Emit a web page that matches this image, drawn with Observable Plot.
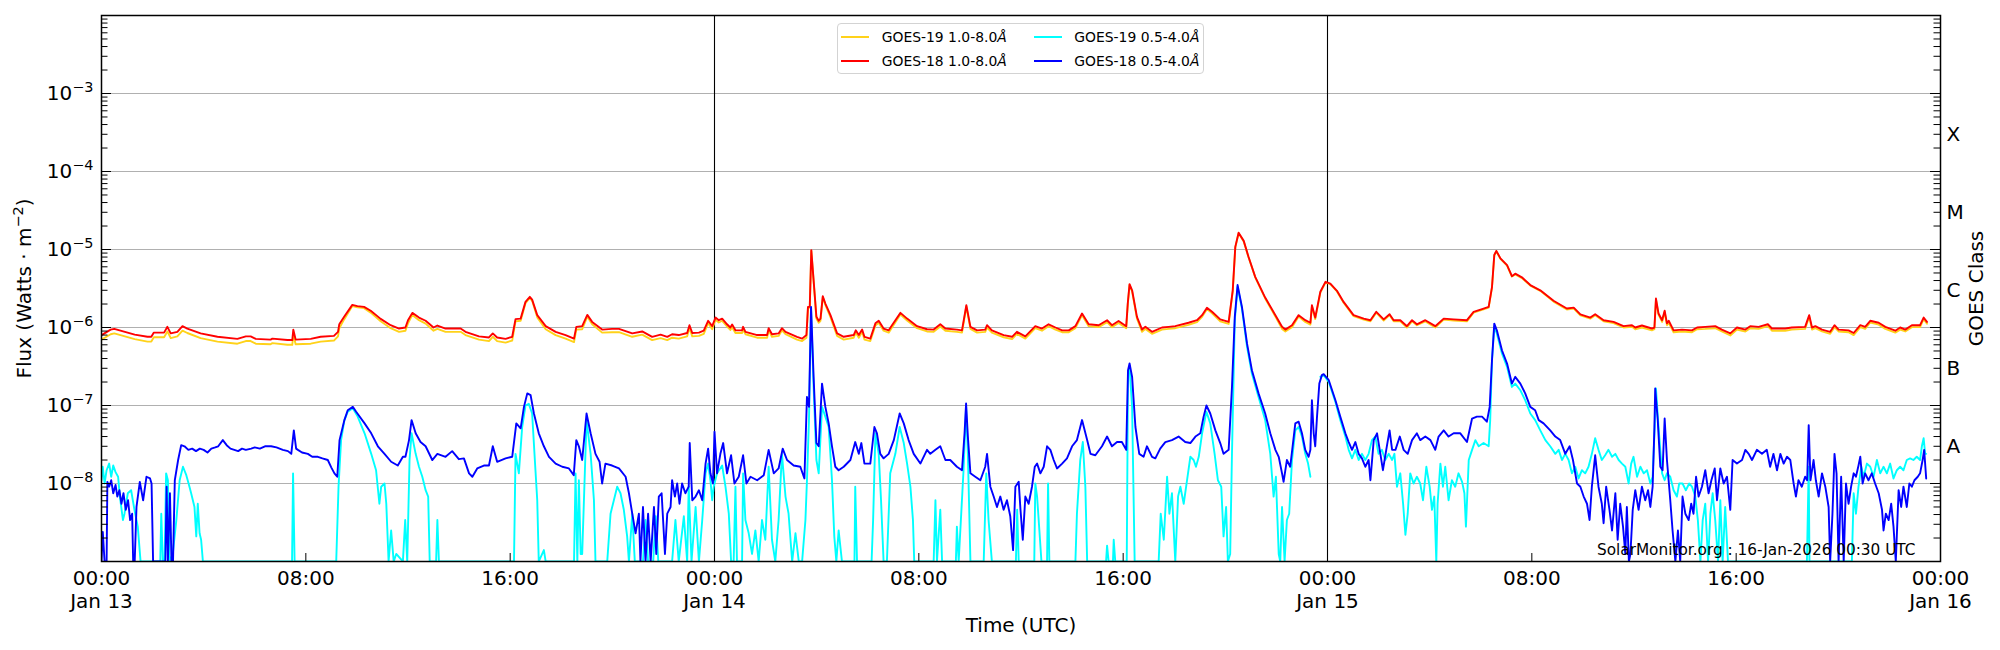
<!DOCTYPE html>
<html><head><meta charset="utf-8">
<script src="https://cdn.jsdelivr.net/npm/d3@7"></script>
<script src="https://cdn.jsdelivr.net/npm/@observablehq/plot@0.6"></script>
<style>
html,body{margin:0;padding:0;background:#fff;}
#wrap{position:relative;width:2000px;height:650px;font-family:"DejaVu Sans",sans-serif;}
#legend{position:absolute;left:837px;top:23px;width:365px;height:49px;border:1px solid #d3d3d3;border-radius:4px;background:rgba(255,255,255,0.8);}
.li{position:absolute;font-size:13.9px;line-height:16px;white-space:nowrap;color:#000;}
.sw{position:absolute;height:2px;width:28px;}
</style></head><body><div id="wrap"><div id="legend"></div></div>
<script>
const HOUR = 3600e3;
const START = Date.UTC(2026, 0, 13);
const toDate = h => new Date(START + h * HOUR);

// hours since 2026-01-13 00:00 UTC (shared by both 1.0-8.0 Å channels)
const longHours = [
0,0.36,0.5,1.3,1.8,1.95,2.05,2.45,2.58,2.71,
2.97,3.17,3.36,3.88,4.54,5.32,5.65,5.84,6.04,6.62,
6.69,7.28,7.47,7.51,7.6,8.19,8.58,9.1,9.26,9.31,
9.5,9.82,10.02,10.28,10.54,10.93,11.32,11.65,11.9,12.0,
12.17,12.43,12.69,13.0,13.15,13.47,14.06,14.25,14.78,15.17,
15.32,15.49,15.82,16.08,16.21,16.41,16.6,16.77,16.86,17.06,
17.39,17.78,18.17,18.5,18.59,18.82,19.02,19.21,19.6,19.99,
20.26,20.78,21.17,21.56,21.89,22.15,22.34,22.6,22.93,23.02,
23.13,23.39,23.58,23.75,23.91,24.04,24.17,24.3,24.49,24.62,
24.69,24.82,25.08,25.12,25.21,25.67,26.06,26.12,26.25,26.51,
26.64,26.78,27.23,27.43,27.6,27.66,27.73,27.79,27.88,27.99,
28.08,28.15,28.24,28.34,28.54,28.8,29.06,29.45,29.53,29.65,
29.78,29.87,30.1,30.3,30.43,30.62,30.82,30.95,31.28,31.54,
31.93,32.32,32.58,32.84,33.04,33.49,33.69,33.86,34.02,34.28,
34.6,34.67,34.86,35.32,35.65,35.84,36.17,36.56,36.82,37.08,
37.35,37.61,37.87,38.13,38.39,38.65,39.04,39.37,39.56,39.82,
40.12,40.18,40.25,40.35,40.54,40.74,40.87,41.13,41.52,41.78,
42.04,42.56,42.89,43.09,43.28,43.48,43.8,44.13,44.29,44.39,
44.52,44.72,44.91,45.17,45.56,45.96,46.22,46.35,46.61,46.87,
47.13,47.33,47.39,47.52,47.72,47.92,48.11,48.37,48.63,49.02,
49.42,49.68,49.91,50.2,50.43,50.59,50.85,51.11,51.31,51.5,
51.83,52.22,52.55,52.94,53.46,53.72,54.11,54.31,54.44,54.53,
54.61,54.77,55.03,55.22,55.35,55.61,55.94,56.33,56.85,57.37,
57.64,57.9,58.29,58.48,58.81,59.2,59.59,59.92,60.05,60.31,
60.7,60.8,60.86,60.96,61.1,61.2,61.29,61.36,61.55,61.88,
62.27,62.47,62.79,63.18,63.44,63.77,64.03,64.36,64.55,64.88,
65.24,65.4,65.92,66.18,66.7,66.86,66.97,67.1,67.36,67.68,
67.85,68.01,68.4,68.6,68.86,69.05,69.25,69.58,69.84,70.23,
70.42,70.62,70.88,71.2,71.34,71.47
];

// GOES-19 1.0-8.0 Å flux (W/m²)
const goes19Long = [
7.0e-7,8.2e-7,8.4e-7,7.1e-7,6.6e-7,6.6e-7,7.5e-7,7.5e-7,8.9e-7,7.3e-7,
7.7e-7,9.1e-7,8.5e-7,7.3e-7,6.6e-7,6.2e-7,6.7e-7,6.7e-7,6.2e-7,6.1e-7,
6.3e-7,6.0e-7,6.0e-7,8.2e-7,6.1e-7,6.2e-7,6.6e-7,6.8e-7,7.7e-7,9.8e-7,
1.27e-6,1.88e-6,1.82e-6,1.77e-6,1.55e-6,1.2e-6,9.8e-7,8.8e-7,9.1e-7,1.13e-6,
1.45e-6,1.24e-6,1.12e-6,9.1e-7,9.6e-7,8.8e-7,8.8e-7,8.0e-7,7.0e-7,6.7e-7,
7.6e-7,6.7e-7,6.4e-7,6.8e-7,1.2e-6,1.22e-6,2.05e-6,2.4e-6,2.2e-6,1.35e-6,
9.5e-7,8.0e-7,7.2e-7,6.5e-7,9.4e-7,9.5e-7,1.38e-6,1.1e-6,8.6e-7,8.7e-7,
8.7e-7,7.6e-7,8.1e-7,6.9e-7,7.3e-7,6.9e-7,7.4e-7,7.2e-7,7.7e-7,9.9e-7,
7.7e-7,7.8e-7,8.3e-7,1.14e-6,9.5e-7,1.26e-6,1.16e-6,1.22e-6,1.03e-6,9.3e-7,
1.01e-6,8.5e-7,8.5e-7,9.5e-7,8.2e-7,7.4e-7,7.4e-7,9.2e-7,7.6e-7,7.8e-7,
9.2e-7,8.2e-7,7.0e-7,6.7e-7,7.4e-7,1.78e-6,1.8e-6,9.6e-6,3.95e-6,1.3e-6,
1.15e-6,1.22e-6,2.45e-6,1.95e-6,1.36e-6,7.8e-7,7.0e-7,7.4e-7,8.6e-7,7.4e-7,
8.8e-7,7.0e-7,6.7e-7,1.06e-6,1.15e-6,9.1e-7,8.6e-7,1.0e-6,1.47e-6,1.23e-6,
9.8e-7,8.9e-7,8.8e-7,1.03e-6,9.1e-7,8.8e-7,8.6e-7,1.86e-6,9.6e-7,8.6e-7,
8.8e-7,1.0e-6,8.6e-7,7.5e-7,7.1e-7,8.3e-7,7.2e-7,9.8e-7,9.1e-7,1.04e-6,
9.4e-7,8.7e-7,8.7e-7,9.8e-7,1.44e-6,1.04e-6,1.01e-6,1.17e-6,1.01e-6,1.14e-6,
9.8e-7,1.96e-6,3.5e-6,2.9e-6,1.3e-6,8.8e-7,9.6e-7,8.3e-7,9.4e-7,9.6e-7,
9.8e-7,1.08e-6,1.17e-6,1.37e-6,1.72e-6,1.52e-6,1.2e-6,1.11e-6,2.9e-6,1.06e-5,
1.62e-5,1.27e-5,7.9e-6,4.4e-6,2.36e-6,1.38e-6,9.6e-7,8.9e-7,1.01e-6,1.38e-6,
1.18e-6,1.09e-6,1.86e-6,1.28e-6,2.8e-6,3.78e-6,3.6e-6,2.9e-6,2.08e-6,1.4e-6,
1.26e-6,1.2e-6,1.55e-6,1.23e-6,1.44e-6,1.2e-6,1.2e-6,1.0e-6,1.2e-6,1.07e-6,
1.2e-6,1.0e-6,1.26e-6,1.23e-6,1.2e-6,1.55e-6,1.71e-6,1.8e-6,3.25e-6,8.4e-6,
9.5e-6,7.6e-6,6.2e-6,4.5e-6,4.8e-6,4.3e-6,3.45e-6,2.95e-6,2.15e-6,1.7e-6,
1.75e-6,1.43e-6,1.3e-6,1.44e-6,1.2e-6,1.14e-6,1.0e-6,1.02e-6,9.5e-7,1.0e-6,
9.2e-7,9.5e-7,2.3e-6,1.46e-6,1.18e-6,1.58e-6,1.07e-6,1.15e-6,8.7e-7,8.9e-7,
8.7e-7,9.5e-7,9.6e-7,9.8e-7,8.9e-7,7.9e-7,9.4e-7,8.9e-7,9.8e-7,9.6e-7,
1.04e-6,9.1e-7,9.1e-7,9.4e-7,9.6e-7,1.38e-6,9.4e-7,9.8e-7,8.9e-7,8.3e-7,
1.01e-6,8.9e-7,8.7e-7,8.0e-7,1.01e-6,9.6e-7,1.16e-6,1.09e-6,9.6e-7,8.6e-7,
9.4e-7,8.9e-7,1.01e-6,1.01e-6,1.28e-6,1.12e-6
];

// GOES-18 1.0-8.0 Å flux (W/m²)
const goes18Long = [
8.0e-7,9.4e-7,9.6e-7,8.1e-7,7.6e-7,7.6e-7,8.6e-7,8.6e-7,1.02e-6,8.4e-7,
8.8e-7,1.04e-6,9.7e-7,8.4e-7,7.6e-7,7.15e-7,7.7e-7,7.7e-7,7.15e-7,7.0e-7,
7.2e-7,6.9e-7,6.9e-7,9.4e-7,7.0e-7,7.15e-7,7.6e-7,7.8e-7,8.8e-7,1.1e-6,
1.37e-6,1.95e-6,1.88e-6,1.84e-6,1.64e-6,1.29e-6,1.07e-6,9.7e-7,1.0e-6,1.24e-6,
1.54e-6,1.34e-6,1.22e-6,1.0e-6,1.06e-6,9.7e-7,9.7e-7,8.8e-7,7.7e-7,7.45e-7,
8.4e-7,7.45e-7,7.15e-7,7.6e-7,1.28e-6,1.3e-6,2.13e-6,2.47e-6,2.28e-6,1.44e-6,
1.04e-6,8.8e-7,8.0e-7,7.2e-7,1.02e-6,1.04e-6,1.45e-6,1.18e-6,9.4e-7,9.6e-7,
9.6e-7,8.4e-7,8.9e-7,7.6e-7,8.1e-7,7.6e-7,8.2e-7,8.0e-7,8.5e-7,1.07e-6,
8.5e-7,8.6e-7,9.1e-7,1.22e-6,1.04e-6,1.34e-6,1.24e-6,1.3e-6,1.1e-6,1.0e-6,
1.09e-6,9.2e-7,9.2e-7,1.02e-6,8.8e-7,8.0e-7,8.0e-7,9.8e-7,8.2e-7,8.4e-7,
9.8e-7,8.8e-7,7.6e-7,7.2e-7,8.0e-7,1.84e-6,1.84e-6,9.8e-6,4.05e-6,1.37e-6,
1.22e-6,1.3e-6,2.52e-6,2.03e-6,1.44e-6,8.4e-7,7.6e-7,8.0e-7,9.2e-7,8.0e-7,
9.4e-7,7.6e-7,7.2e-7,1.13e-6,1.22e-6,9.7e-7,9.2e-7,1.07e-6,1.54e-6,1.3e-6,
1.04e-6,9.5e-7,9.4e-7,1.1e-6,9.7e-7,9.4e-7,9.2e-7,1.93e-6,1.02e-6,9.2e-7,
9.4e-7,1.07e-6,9.2e-7,8.0e-7,7.6e-7,8.8e-7,7.7e-7,1.04e-6,9.7e-7,1.1e-6,
1.0e-6,9.2e-7,9.2e-7,1.04e-6,1.51e-6,1.1e-6,1.07e-6,1.24e-6,1.07e-6,1.21e-6,
1.04e-6,2.03e-6,3.6e-6,3.0e-6,1.37e-6,9.4e-7,1.02e-6,8.8e-7,1.0e-6,1.02e-6,
1.04e-6,1.15e-6,1.24e-6,1.44e-6,1.79e-6,1.59e-6,1.27e-6,1.18e-6,3.0e-6,1.08e-5,
1.64e-5,1.29e-5,8.0e-6,4.46e-6,2.42e-6,1.44e-6,1.02e-6,9.4e-7,1.07e-6,1.44e-6,
1.24e-6,1.15e-6,1.93e-6,1.34e-6,2.87e-6,3.85e-6,3.66e-6,2.95e-6,2.13e-6,1.44e-6,
1.3e-6,1.24e-6,1.59e-6,1.27e-6,1.48e-6,1.24e-6,1.24e-6,1.04e-6,1.24e-6,1.1e-6,
1.24e-6,1.04e-6,1.3e-6,1.27e-6,1.24e-6,1.59e-6,1.75e-6,1.84e-6,3.3e-6,8.5e-6,
9.6e-6,7.7e-6,6.3e-6,4.55e-6,4.9e-6,4.4e-6,3.5e-6,3.0e-6,2.2e-6,1.75e-6,
1.8e-6,1.47e-6,1.34e-6,1.48e-6,1.24e-6,1.18e-6,1.04e-6,1.07e-6,1.0e-6,1.06e-6,
9.7e-7,1.0e-6,2.35e-6,1.51e-6,1.24e-6,1.64e-6,1.13e-6,1.22e-6,9.2e-7,9.4e-7,
9.2e-7,1.0e-6,1.02e-6,1.04e-6,9.4e-7,8.4e-7,1.0e-6,9.4e-7,1.04e-6,1.02e-6,
1.1e-6,9.7e-7,9.7e-7,1.0e-6,1.02e-6,1.44e-6,1.0e-6,1.04e-6,9.4e-7,8.8e-7,
1.07e-6,9.4e-7,9.2e-7,8.5e-7,1.07e-6,1.02e-6,1.22e-6,1.15e-6,1.02e-6,9.1e-7,
1.0e-6,9.4e-7,1.07e-6,1.07e-6,1.34e-6,1.18e-6
];

// GOES-19 0.5-4.0 Å: [hours, flux]; null marks a data gap
const goes19Short = [
[0,1.1e-8],[0.05,1.64e-8],[0.12,1.0e-8],[0.2,1.48e-8],[0.3,1.8e-8],[0.38,1.22e-8],[0.46,1.7e-8],[0.55,1.4e-8],[0.65,1.22e-8],[0.72,6.8e-9],
[0.84,3.4e-9],[0.9,4.1e-9],[1.03,7.5e-9],[1.16,8.2e-9],[1.29,4.6e-9],[1.42,2.8e-9],[1.53,1.0e-9],[2.3,1.0e-9],[2.34,4.1e-9],[2.4,1.0e-9],
[2.47,1.0e-9],[2.53,1.35e-8],[2.6,1.1e-8],[2.66,1.0e-9],[2.79,1.25e-9],[2.93,3.4e-9],[3.06,1.1e-8],[3.19,1.64e-8],[3.32,1.28e-8],[3.41,1.0e-8],
[3.51,7.5e-9],[3.64,5.0e-9],[3.71,2.1e-9],[3.77,5.5e-9],[3.84,2.3e-9],[3.9,1.9e-9],[3.97,1.0e-9],[7.46,1.0e-9],[7.5,1.35e-8],[7.56,1.0e-9],
[9.19,1.0e-9],[9.28,9.1e-9],[9.38,3.6e-8],[9.51,6.5e-8],[9.64,8.3e-8],[9.84,9.2e-8],[10.03,7.2e-8],[10.3,4.4e-8],[10.56,2.4e-8],[10.75,1.48e-8],
[10.88,5.5e-9],[10.95,9.1e-9],[11.08,1.0e-8],[11.15,5.5e-9],[11.24,1.0e-9],[11.34,2.5e-9],[11.44,1.0e-9],[11.54,1.25e-9],[11.8,1.0e-9],[11.89,3.4e-9],
[11.97,1.0e-9],[12.06,2.0e-8],[12.14,4.4e-8],[12.3,2.4e-8],[12.43,1.64e-8],[12.56,1.22e-8],[12.69,8.2e-9],[12.79,6.8e-9],[12.85,1.0e-9],[13.1,1.0e-9],
[13.15,3.4e-9],[13.21,1.0e-9],[16.15,1.0e-9],[16.21,2.4e-8],[16.34,1.35e-8],[16.47,5.3e-8],[16.6,1.0e-7],[16.73,1.05e-7],[16.86,7.9e-8],[16.99,1.48e-8],
[17.06,6.1e-9],[17.12,1.0e-9],[17.32,1.4e-9],[17.39,1.0e-9],[18.5,1.0e-9],[18.56,1.35e-8],[18.63,1.0e-9],[18.69,1.1e-8],[18.76,1.25e-9],[18.82,1.25e-9],
[18.99,6.5e-8],[19.15,2.4e-8],[19.28,6.1e-9],[19.34,1.0e-9],[19.8,1.0e-9],[19.93,4.1e-9],[20.06,6.1e-9],[20.19,9.1e-9],[20.32,7.5e-9],[20.45,4.6e-9],
[20.58,2.1e-9],[20.65,1.0e-9],[20.78,4.1e-9],[20.88,1.0e-9],[21.2,1.0e-9],[21.3,3.4e-9],[21.4,1.0e-9],[21.6,1.0e-9],[21.7,3.8e-9],[21.8,1.0e-9],
[22.34,1.0e-9],[22.47,3.4e-9],[22.6,1.0e-9],[22.8,3.8e-9],[22.93,1.0e-9],[22.99,9.1e-9],[23.1,1.0e-9],[23.26,5.0e-9],[23.39,1.0e-9],[23.52,3.4e-9],
[23.65,1.35e-8],[23.75,1.8e-8],[23.84,1.1e-8],[23.91,6.1e-9],[23.97,9.1e-9],[24.1,1.35e-8],[24.3,1.7e-8],[24.43,9.1e-9],[24.56,4.1e-9],[24.65,1.0e-9],
[24.75,1.0e-9],[24.82,9.1e-9],[24.88,1.0e-9],[25.08,1.0e-9],[25.12,1.35e-8],[25.21,3.4e-9],[25.34,2.3e-9],[25.47,1.25e-9],[25.6,2.5e-9],[25.73,1.0e-9],
[25.86,3.4e-9],[25.99,1.9e-9],[26.12,1.64e-8],[26.25,1.9e-9],[26.38,1.0e-9],[26.51,3.4e-9],[26.64,2.4e-8],[26.78,6.8e-9],[26.9,4.1e-9],[27.04,1.0e-9],
[27.17,2.3e-9],[27.3,1.0e-9],[27.43,1.0e-9],[27.56,3.4e-9],[27.62,1.1e-8],[27.7,6.8e-8],[27.78,1.75e-6],[27.88,1.73e-7],[27.99,2.0e-8],[28.08,1.35e-8],
[28.21,9.6e-8],[28.34,7.2e-8],[28.47,5.3e-8],[28.6,1.1e-8],[28.69,2.1e-9],[28.77,1.0e-9],[28.86,2.5e-9],[28.99,1.0e-9],[29.48,1.0e-9],[29.51,9.1e-9],
[29.58,1.0e-9],[30.15,1.0e-9],[30.21,3.4e-9],[30.3,4.4e-8],[30.43,2.4e-8],[30.52,6.1e-9],[30.62,1.0e-9],[30.75,1.0e-9],[30.88,1.35e-8],[31.08,2.4e-8],
[31.25,5.3e-8],[31.41,3.3e-8],[31.54,1.8e-8],[31.67,9.1e-9],[31.77,3.4e-9],[31.82,1.0e-9],[32.58,1.0e-9],[32.65,6.1e-9],[32.71,1.0e-9],[32.84,4.6e-9],
[32.91,1.0e-9],[33.45,1.0e-9],[33.49,2.8e-9],[33.56,1.0e-9],[33.75,1.48e-8],[33.85,9.6e-8],[33.92,2.4e-8],[34.02,1.0e-9],[34.54,1.0e-9],[34.64,1.35e-8],
[34.73,3.4e-9],[34.86,1.0e-9],[35.8,1.0e-9],[35.85,4.6e-9],[35.91,1.0e-9],[36.52,1.0e-9],[36.56,1.0e-8],[36.63,6.8e-9],[36.72,2.5e-9],[36.8,1.0e-9],
[37.02,1.0e-9],[37.06,1.0e-8],[37.11,1.0e-9],[38.13,1.0e-9],[38.19,4.1e-9],[38.32,2.0e-8],[38.42,3.4e-8],[38.52,9.1e-9],[38.59,1.0e-9],[39.33,1.0e-9],
[39.37,1.6e-9],[39.43,1.0e-9],[39.6,1.0e-9],[39.63,1.9e-9],[39.69,1.0e-9],[40.14,1.0e-9],[40.19,2.57e-7],[40.25,3.13e-7],[40.35,9.6e-8],[40.45,1.0e-9],
[41.39,1.0e-9],[41.47,4.1e-9],[41.59,1.9e-9],[41.72,1.22e-8],[41.81,4.1e-9],[41.91,7.5e-9],[42.04,1.0e-9],[42.15,6.8e-9],[42.24,9.1e-9],[42.37,5.5e-9],
[42.5,1.1e-8],[42.63,2.2e-8],[42.76,2.0e-8],[42.85,1.64e-8],[42.96,2.2e-8],[43.09,4.4e-8],[43.26,8.3e-8],[43.41,5.9e-8],[43.58,2.4e-8],[43.71,1.1e-8],
[43.84,9.1e-9],[43.93,2.1e-9],[44.03,5.0e-9],[44.1,1.0e-9],[44.19,1.25e-9],[44.26,2.4e-8],[44.37,1.24e-6],[44.48,3.3e-6],[44.65,1.75e-6],[44.85,5.65e-7],
[45.04,2.57e-7],[45.3,1.29e-7],[45.56,6.5e-8],[45.76,2.4e-8],[45.89,6.8e-9],[45.98,1.22e-8],[46.09,1.25e-9],[46.15,1.0e-9],[46.22,5.0e-9],[46.32,1.0e-9],
[46.41,3.4e-9],[46.5,4.1e-9],[46.61,2.0e-8],[46.74,4.8e-8],[46.87,5.3e-8],[47.0,4.0e-8],[47.13,2.4e-8],[47.24,1.8e-8],[47.33,1.22e-8],[47.36,null],
[47.72,2.33e-7],[47.85,2.45e-7],[48.05,2.0e-7],[48.31,1.11e-7],[48.5,6.5e-8],[48.7,4.0e-8],[48.83,2.7e-8],[48.96,2.1e-8],[49.09,2.7e-8],[49.22,2.0e-8],
[49.35,2.4e-8],[49.48,2.0e-8],[49.61,2.4e-8],[49.74,3.6e-8],[49.87,4.0e-8],[50.0,2.4e-8],[50.13,2.7e-8],[50.26,2.0e-8],[50.4,2.4e-8],[50.53,2.0e-8],
[50.62,2.4e-8],[50.72,9.1e-9],[50.85,1.35e-8],[50.96,5.5e-9],[51.05,2.2e-9],[51.14,4.1e-9],[51.24,1.35e-8],[51.37,1.0e-8],[51.5,1.22e-8],[51.63,1.0e-8],
[51.74,6.1e-9],[51.87,1.64e-8],[52.0,9.1e-9],[52.09,4.6e-9],[52.18,6.8e-9],[52.26,1.0e-9],[52.31,5.5e-9],[52.42,1.8e-8],[52.52,9.1e-9],[52.61,1.64e-8],
[52.74,6.1e-9],[52.87,1.1e-8],[53.0,9.1e-9],[53.13,1.35e-8],[53.27,1.05e-8],[53.36,7.5e-9],[53.42,2.8e-9],[53.53,2.0e-8],[53.66,2.7e-8],[53.79,3.6e-8],
[53.92,3.0e-8],[54.11,3.3e-8],[54.31,3.0e-8],[54.37,6.5e-8],[54.44,3.8e-7],[54.53,1.02e-6],[54.63,8.4e-7],[54.83,4.64e-7],[55.03,3.13e-7],[55.22,1.73e-7],
[55.35,1.91e-7],[55.55,1.57e-7],[55.74,1.17e-7],[55.94,7.9e-8],[56.13,6.5e-8],[56.33,4.8e-8],[56.53,3.6e-8],[56.72,3.0e-8],[56.92,2.4e-8],[57.05,2.7e-8],
[57.18,2.0e-8],[57.31,2.4e-8],[57.44,2.0e-8],[57.57,1.35e-8],[57.7,1.64e-8],[57.83,1.16e-8],[57.96,1.48e-8],[58.09,1.35e-8],[58.22,1.64e-8],[58.35,2.4e-8],
[58.48,3.8e-8],[58.61,2.7e-8],[58.74,2.0e-8],[58.87,2.3e-8],[59.0,2.7e-8],[59.14,2.2e-8],[59.27,2.4e-8],[59.4,2.0e-8],[59.53,1.8e-8],[59.66,1.64e-8],
[59.79,1.0e-8],[59.89,1.8e-8],[59.98,2.2e-8],[60.12,1.22e-8],[60.25,1.64e-8],[60.38,1.35e-8],[60.51,1.48e-8],[60.64,1.0e-8],[60.73,1.22e-8],[60.81,5.3e-8],
[60.86,1.65e-7],[60.96,5.3e-8],[61.1,1.35e-8],[61.2,1.1e-8],[61.29,1.35e-8],[61.42,1.22e-8],[61.55,8.2e-9],[61.68,6.8e-9],[61.77,1.0e-8],[61.9,1.0e-8],
[62.03,8.2e-9],[62.16,1.0e-8],[62.27,9.1e-9],[62.4,6.8e-9],[62.5,3.4e-9],[62.6,1.0e-9],[62.69,3.4e-9],[62.79,5.5e-9],[62.9,1.0e-9],[62.99,4.1e-9],
[63.08,7.5e-9],[63.18,3.4e-9],[63.29,1.0e-9],[63.38,6.1e-9],[63.47,1.0e-9],[63.57,5.0e-9],[63.68,1.0e-9],[66.77,1.0e-9],[66.84,1.64e-8],[66.87,1.0e-9],
[68.53,1.0e-9],[68.6,7.5e-9],[68.69,4.1e-9],[68.79,9.1e-9],[68.9,1.64e-8],[68.99,1.22e-8],[69.12,1.8e-8],[69.25,1.64e-8],[69.38,1.22e-8],[69.51,2.0e-8],
[69.64,1.35e-8],[69.77,1.64e-8],[69.9,1.35e-8],[70.03,1.8e-8],[70.16,1.16e-8],[70.29,1.48e-8],[70.42,1.64e-8],[70.55,1.48e-8],[70.68,2.0e-8],[70.81,2.1e-8],
[70.94,2.0e-8],[71.07,2.2e-8],[71.2,2.0e-8],[71.27,3.0e-8],[71.34,3.8e-8],[71.4,2.4e-8],[71.44,2.4e-8]
];

// GOES-18 0.5-4.0 Å: [hours, flux]
const goes18Short = [
[0,1.0e-9],[0.05,2.4e-9],[0.12,1.0e-9],[0.2,1.0e-9],[0.23,1.05e-8],[0.3,9.1e-9],[0.38,1.1e-8],[0.46,7.5e-9],[0.55,9.6e-9],[0.62,6.8e-9],
[0.7,8.2e-9],[0.78,5.5e-9],[0.86,7.5e-9],[0.95,4.6e-9],[1.04,6.1e-9],[1.12,3.4e-9],[1.2,4.1e-9],[1.24,1.0e-9],[1.3,1.0e-9],[1.37,5.0e-9],
[1.5,1.05e-8],[1.63,6.1e-9],[1.76,1.22e-8],[1.9,1.16e-8],[1.96,1.0e-8],[2.02,1.0e-9],[2.5,1.0e-9],[2.55,9.1e-9],[2.6,1.0e-9],[2.68,7.5e-9],
[2.74,1.0e-9],[2.8,1.0e-9],[2.87,1.1e-8],[3.0,2.0e-8],[3.12,3.1e-8],[3.25,3.0e-8],[3.4,2.7e-8],[3.55,2.8e-8],[3.7,2.6e-8],[3.85,2.8e-8],
[4.0,2.7e-8],[4.15,2.5e-8],[4.3,2.8e-8],[4.45,2.9e-8],[4.57,3.0e-8],[4.75,3.6e-8],[4.9,3.1e-8],[5.05,2.8e-8],[5.2,2.7e-8],[5.35,2.6e-8],
[5.5,2.8e-8],[5.65,2.7e-8],[5.86,2.8e-8],[6.0,2.9e-8],[6.2,2.8e-8],[6.4,3.0e-8],[6.64,3.0e-8],[6.85,2.9e-8],[7.1,2.7e-8],[7.3,2.6e-8],
[7.43,2.4e-8],[7.53,4.8e-8],[7.62,2.8e-8],[7.69,2.7e-8],[7.85,2.5e-8],[8.08,2.4e-8],[8.25,2.2e-8],[8.47,2.2e-8],[8.65,2.1e-8],[8.86,2.0e-8],
[9.0,1.6e-8],[9.12,1.35e-8],[9.23,1.22e-8],[9.32,3.6e-8],[9.51,6.5e-8],[9.64,8.7e-8],[9.84,9.6e-8],[9.97,8.3e-8],[10.3,5.9e-8],[10.56,4.4e-8],
[10.82,3.0e-8],[11.08,2.4e-8],[11.34,1.9e-8],[11.6,1.7e-8],[11.8,2.2e-8],[11.9,2.2e-8],[12.04,3.6e-8],[12.14,6.5e-8],[12.3,4.4e-8],[12.49,3.4e-8],
[12.69,3.0e-8],[12.95,2.0e-8],[13.15,2.4e-8],[13.47,2.2e-8],[13.73,2.6e-8],[13.99,2.05e-8],[14.19,2.1e-8],[14.39,1.35e-8],[14.52,1.22e-8],[14.71,1.56e-8],
[14.97,1.7e-8],[15.17,1.7e-8],[15.32,3.0e-8],[15.49,1.9e-8],[15.82,2.1e-8],[16.08,2.2e-8],[16.24,5.9e-8],[16.41,5.1e-8],[16.54,9.6e-8],[16.67,1.43e-7],
[16.8,1.36e-7],[16.93,7.9e-8],[17.12,4.4e-8],[17.32,3.0e-8],[17.52,2.2e-8],[17.78,1.8e-8],[18.04,1.64e-8],[18.3,1.56e-8],[18.49,1.28e-8],[18.59,3.6e-8],
[18.69,3.0e-8],[18.82,2.0e-8],[18.99,7.9e-8],[19.15,4.4e-8],[19.34,2.4e-8],[19.5,1.9e-8],[19.6,1.0e-8],[19.73,1.8e-8],[19.99,1.7e-8],[20.26,1.56e-8],
[20.52,1.22e-8],[20.65,7.5e-9],[20.78,4.1e-9],[20.91,2.3e-9],[21.04,4.1e-9],[21.1,1.0e-9],[21.2,5.0e-9],[21.3,1.0e-9],[21.4,4.1e-9],[21.5,1.0e-9],
[21.63,5.0e-9],[21.72,1.25e-9],[21.82,6.8e-9],[21.93,7.5e-9],[22.06,1.25e-9],[22.15,4.1e-9],[22.28,5.0e-9],[22.34,1.1e-8],[22.45,6.8e-9],[22.54,1.0e-8],
[22.63,5.5e-9],[22.73,1.0e-8],[22.86,7.5e-9],[22.99,9.1e-9],[23.03,3.3e-8],[23.13,6.1e-9],[23.26,6.8e-9],[23.39,8.2e-9],[23.52,6.1e-9],[23.65,1.8e-8],
[23.75,2.8e-8],[23.84,1.35e-8],[23.94,1.0e-8],[24.0,4.6e-8],[24.1,1.35e-8],[24.23,2.4e-8],[24.34,3.3e-8],[24.49,1.35e-8],[24.65,2.3e-8],[24.78,1.0e-8],
[24.95,1.22e-8],[25.12,2.3e-8],[25.25,1.0e-8],[25.41,1.22e-8],[25.67,1.1e-8],[25.93,1.28e-8],[26.12,2.7e-8],[26.32,1.35e-8],[26.51,1.56e-8],[26.67,2.8e-8],
[26.84,2.0e-8],[27.1,1.7e-8],[27.36,1.64e-8],[27.52,1.16e-8],[27.62,1.29e-7],[27.7,9.6e-8],[27.78,1.84e-6],[27.88,2.33e-7],[27.99,3.3e-8],[28.08,3.0e-8],
[28.21,1.91e-7],[28.34,9.6e-8],[28.47,5.9e-8],[28.6,3.0e-8],[28.73,1.64e-8],[28.86,1.48e-8],[29.06,1.64e-8],[29.32,2.0e-8],[29.51,3.4e-8],[29.65,2.4e-8],
[29.75,3.3e-8],[29.87,1.8e-8],[30.1,1.8e-8],[30.26,5.3e-8],[30.36,4.4e-8],[30.49,2.4e-8],[30.62,2.1e-8],[30.82,2.4e-8],[31.02,3.6e-8],[31.25,7.9e-8],
[31.41,5.9e-8],[31.6,3.6e-8],[31.8,2.4e-8],[32.06,1.8e-8],[32.32,2.7e-8],[32.45,2.4e-8],[32.65,2.7e-8],[32.84,3.0e-8],[33.04,2.0e-8],[33.23,2.0e-8],
[33.49,1.64e-8],[33.69,1.48e-8],[33.79,4.4e-8],[33.85,1.06e-7],[33.92,4.0e-8],[34.02,1.35e-8],[34.21,1.22e-8],[34.41,1.1e-8],[34.6,1.64e-8],[34.67,2.4e-8],
[34.8,9.1e-9],[34.93,6.8e-9],[35.06,5.0e-9],[35.19,6.8e-9],[35.32,4.6e-9],[35.45,6.1e-9],[35.58,3.8e-9],[35.69,1.4e-9],[35.78,9.1e-9],[35.91,1.05e-8],
[35.98,4.6e-9],[36.07,1.9e-9],[36.17,6.8e-9],[36.3,5.5e-9],[36.43,9.1e-9],[36.54,1.64e-8],[36.63,1.8e-8],[36.76,1.35e-8],[36.89,1.64e-8],[37.02,3.0e-8],
[37.15,2.7e-8],[37.28,2.0e-8],[37.41,1.56e-8],[37.61,1.8e-8],[37.8,2.1e-8],[38.0,3.0e-8],[38.19,3.6e-8],[38.39,6.5e-8],[38.59,3.6e-8],[38.72,2.4e-8],
[38.91,2.3e-8],[39.17,3.0e-8],[39.37,4.0e-8],[39.56,3.0e-8],[39.76,3.4e-8],[39.95,3.4e-8],[40.12,2.7e-8],[40.19,2.84e-7],[40.25,3.45e-7],[40.35,2.33e-7],
[40.48,5.3e-8],[40.63,2.4e-8],[40.8,2.2e-8],[40.93,3.0e-8],[41.13,2.2e-8],[41.26,2.1e-8],[41.45,2.8e-8],[41.65,3.4e-8],[41.91,3.6e-8],[42.17,4.0e-8],
[42.43,3.4e-8],[42.63,3.3e-8],[42.83,4.0e-8],[43.02,4.4e-8],[43.15,7.2e-8],[43.26,1.0e-7],[43.41,7.9e-8],[43.61,4.8e-8],[43.8,3.3e-8],[43.93,2.4e-8],
[44.13,2.7e-8],[44.26,1.73e-7],[44.37,1.37e-6],[44.48,3.5e-6],[44.65,1.84e-6],[44.85,6.2e-7],[45.04,2.84e-7],[45.3,1.43e-7],[45.56,7.9e-8],[45.76,4.4e-8],
[45.96,2.7e-8],[46.09,2.2e-8],[46.22,1.35e-8],[46.28,1.05e-8],[46.41,2.0e-8],[46.54,1.64e-8],[46.74,5.9e-8],[46.87,6.2e-8],[47.0,4.4e-8],[47.13,2.7e-8],
[47.26,2.2e-8],[47.33,2.7e-8],[47.39,1.17e-7],[47.46,4.4e-8],[47.52,3.0e-8],[47.59,7.2e-8],[47.68,1.91e-7],[47.78,2.45e-7],[47.85,2.52e-7],[48.05,2.11e-7],
[48.31,1.17e-7],[48.5,7.2e-8],[48.7,4.4e-8],[48.83,3.4e-8],[48.96,2.7e-8],[49.09,3.4e-8],[49.22,2.4e-8],[49.35,2.1e-8],[49.48,1.64e-8],[49.61,2.0e-8],
[49.68,1.1e-8],[49.81,3.6e-8],[49.94,4.4e-8],[50.07,2.4e-8],[50.17,1.48e-8],[50.3,2.7e-8],[50.43,4.8e-8],[50.53,2.7e-8],[50.66,2.7e-8],[50.83,4.0e-8],
[50.98,2.7e-8],[51.14,2.4e-8],[51.31,3.6e-8],[51.5,4.4e-8],[51.63,3.6e-8],[51.83,4.0e-8],[52.03,3.6e-8],[52.22,2.7e-8],[52.35,4.0e-8],[52.55,4.8e-8],
[52.74,4.0e-8],[52.94,4.4e-8],[53.2,4.4e-8],[53.46,3.4e-8],[53.66,6.8e-8],[53.85,7.2e-8],[54.05,7.2e-8],[54.24,6.2e-8],[54.35,9.6e-8],[54.44,3.8e-7],
[54.53,1.12e-6],[54.63,9.2e-7],[54.83,5.1e-7],[55.03,3.45e-7],[55.22,1.91e-7],[55.35,2.33e-7],[55.55,1.91e-7],[55.74,1.43e-7],[55.94,9.6e-8],[56.13,8.7e-8],
[56.27,6.5e-8],[56.46,5.9e-8],[56.72,4.8e-8],[56.92,4.0e-8],[57.11,3.6e-8],[57.31,2.4e-8],[57.48,3.0e-8],[57.61,2.0e-8],[57.77,1.0e-8],[57.9,9.1e-9],
[58.03,6.8e-9],[58.16,5.5e-9],[58.26,3.4e-9],[58.35,9.1e-9],[58.48,2.3e-8],[58.61,9.1e-9],[58.74,5.5e-9],[58.81,3.1e-9],[58.91,9.1e-9],[59.04,4.6e-9],
[59.14,2.5e-9],[59.27,7.5e-9],[59.36,1.9e-9],[59.46,5.5e-9],[59.57,2.8e-9],[59.66,1.25e-9],[59.72,5.0e-9],[59.8,1.0e-9],[59.86,1.25e-9],[59.95,4.6e-9],
[60.05,8.2e-9],[60.18,4.6e-9],[60.31,9.1e-9],[60.44,6.1e-9],[60.55,8.2e-9],[60.64,5.0e-9],[60.73,9.1e-9],[60.8,5.3e-8],[60.83,1.65e-7],[60.93,6.5e-8],
[61.03,1.64e-8],[61.12,1.48e-8],[61.2,6.8e-8],[61.29,2.0e-8],[61.42,6.1e-9],[61.51,2.5e-9],[61.62,1.0e-9],[61.72,2.5e-9],[61.81,1.0e-9],[61.9,6.8e-9],
[62.01,4.1e-9],[62.14,3.4e-9],[62.24,5.5e-9],[62.33,4.1e-9],[62.43,1.22e-8],[62.53,6.8e-9],[62.66,9.1e-9],[62.79,1.48e-8],[62.92,7.5e-9],[63.03,1.1e-8],
[63.16,1.56e-8],[63.25,6.1e-9],[63.38,1.56e-8],[63.51,1.0e-8],[63.64,1.22e-8],[63.77,4.6e-9],[63.86,2.0e-8],[64.03,1.8e-8],[64.23,2.0e-8],[64.36,2.7e-8],
[64.49,2.4e-8],[64.62,2.0e-8],[64.81,2.7e-8],[65.01,2.4e-8],[65.2,2.7e-8],[65.33,1.64e-8],[65.46,2.4e-8],[65.6,1.48e-8],[65.73,2.4e-8],[65.86,1.8e-8],
[65.99,2.2e-8],[66.12,2.0e-8],[66.25,1.0e-8],[66.34,6.8e-9],[66.44,1.1e-8],[66.57,9.1e-9],[66.7,1.22e-8],[66.78,1.1e-8],[66.84,5.6e-8],[66.91,1.1e-8],
[67.03,2.0e-8],[67.12,1.1e-8],[67.23,6.8e-9],[67.36,1.35e-8],[67.49,9.1e-9],[67.62,5.0e-9],[67.68,1.0e-9],[67.77,4.1e-9],[67.85,2.4e-8],[67.93,1.35e-8],
[68.01,1.0e-9],[68.11,1.22e-8],[68.21,1.0e-9],[68.3,1.0e-8],[68.4,5.5e-9],[68.5,9.1e-9],[68.6,1.35e-8],[68.69,1.22e-8],[68.79,1.7e-8],[68.86,2.2e-8],
[68.95,1.0e-8],[69.05,1.35e-8],[69.18,1.1e-8],[69.31,1.35e-8],[69.44,1.0e-8],[69.58,7.5e-9],[69.71,4.6e-9],[69.77,2.5e-9],[69.86,4.1e-9],[69.97,3.4e-9],
[70.07,5.5e-9],[70.16,2.8e-9],[70.25,1.0e-9],[70.36,8.2e-9],[70.46,5.0e-9],[70.55,9.1e-9],[70.68,5.0e-9],[70.78,1.0e-8],[70.88,9.1e-9],[70.98,1.1e-8],
[71.11,1.22e-8],[71.2,1.35e-8],[71.3,2.0e-8],[71.36,2.7e-8],[71.44,1.16e-8]
];

const seriesNames = ["GOES-19 1.0-8.0", "GOES-18 1.0-8.0", "GOES-19 0.5-4.0", "GOES-18 0.5-4.0"];
const seriesColors = ["#ffd21a", "#ff0000", "#00ffff", "#0000ff"];
const xTickHours = [0, 8, 16, 24, 32, 40, 48, 56, 64, 72];
const xTickLabels = ["00:00\nJan 13", "08:00", "16:00", "00:00\nJan 14", "08:00", "16:00", "00:00\nJan 15", "08:00", "16:00", "00:00\nJan 16"];
const dayBoundaryHours = [24, 48];
const fluxLabelTicks = [1e-8, 1e-7, 1e-6, 1e-5, 1e-4, 1e-3];
const fluxTickLabels = ["10^-8", "10^-7", "10^-6", "10^-5", "10^-4", "10^-3"];
const allDecades = [1e-9, 1e-8, 1e-7, 1e-6, 1e-5, 1e-4, 1e-3, 1e-2];
const minorMultipliers = [2, 3, 4, 5, 6, 7, 8, 9];
const classTicks = [3e-8, 3e-7, 3e-6, 3e-5, 3e-4];
const classLabels = ["A", "B", "C", "M", "X"];

const W = 2000, H = 650, ML = 101, MR = 60, MT = 15, MB = 89;
const FW = W - ML - MR, FH = H - MT - MB;

const minorTicks = allDecades.slice(0, -1).flatMap(d => minorMultipliers.map(m => m * d));
const xTicks = xTickHours.map(toDate);
const longRows = vals => longHours.map((h, i) => ({date: toDate(h), flux: vals[i]}));
const shortRows = pairs => pairs.map(([h, v]) => ({date: toDate(h), flux: v}));
const series = [longRows(goes19Long), longRows(goes18Long), shortRows(goes19Short), shortRows(goes18Short)];

const lineMarks = series.map((rows, i) => Plot.line(rows, {x: "date", y: "flux", stroke: seriesColors[i], strokeWidth: 1.9, clip: true}));
const classRows = classTicks.map((v, i) => ({flux: v, label: classLabels[i]}));

const chart = Plot.plot({
  width: W, height: H,
  marginLeft: ML, marginRight: MR, marginTop: MT, marginBottom: MB,
  style: {fontFamily: '"DejaVu Sans", sans-serif', fontSize: "20px", background: "white", color: "black", overflow: "visible"},
  x: {type: "utc", domain: [toDate(0), toDate(72)]},
  y: {type: "log", domain: [1e-9, 1e-2]},
  marks: [
    Plot.ruleY(fluxLabelTicks, {stroke: "#b0b0b0", strokeWidth: 1.1}),
    Plot.ruleX(dayBoundaryHours.map(toDate), {stroke: "black", strokeWidth: 1.1}),
    ...lineMarks,
    // inward tick marks
    Plot.tickY(minorTicks, {stroke: "black", strokeWidth: 1, insetRight: FW - 6.5}),
    Plot.tickY(minorTicks, {stroke: "black", strokeWidth: 1, insetLeft: FW - 6.5}),
    Plot.tickY(allDecades, {stroke: "black", strokeWidth: 1, insetRight: FW - 10}),
    Plot.tickY(allDecades, {stroke: "black", strokeWidth: 1, insetLeft: FW - 10}),
    Plot.tickX(xTicks, {stroke: "black", strokeWidth: 1, insetTop: FH - 8}),
    Plot.frame({stroke: "black", strokeWidth: 1.5}),
    Plot.axisX(xTicks, {anchor: "bottom", tickSize: 0, tickPadding: 6.5, lineHeight: 1.165, fontSize: 20,
      tickFormat: d => xTickLabels[xTickHours.indexOf(Math.round((d - START) / HOUR))], label: null}),
    Plot.axisY(fluxLabelTicks, {anchor: "left", tickSize: 0, tickPadding: 8, fontSize: 20,
      tickFormat: d => fluxTickLabels[fluxLabelTicks.indexOf(d)], label: null}),
    Plot.text(classRows, {y: "flux", text: "label", frameAnchor: "right", textAnchor: "start", lineAnchor: "middle", dx: 6, fontSize: 20}),
    Plot.text(["Time (UTC)"], {frameAnchor: "bottom", textAnchor: "middle", lineAnchor: "middle", dy: 64, fontSize: 20}),
    Plot.text(["Flux (Watts · m^-2)"], {frameAnchor: "left", textAnchor: "middle", lineAnchor: "middle", dx: -77, rotate: -90, fontSize: 20}),
    Plot.text(["GOES Class"], {frameAnchor: "right", textAnchor: "middle", lineAnchor: "middle", dx: 36, rotate: -90, fontSize: 20}),
    Plot.text(["SolarMonitor.org : 16-Jan-2026 00:30 UTC"], {frameAnchor: "bottom-right", textAnchor: "end", lineAnchor: "bottom", dx: -25, dy: -7, fontSize: 15.3})
  ]
});

const wrap = document.getElementById("wrap");
wrap.insertBefore(chart, wrap.firstChild);

// mathtext-like superscripts
const NS = "http://www.w3.org/2000/svg";
for (const t of chart.querySelectorAll("text")) {
  const m = t.textContent.match(/^(.*)\^-(\d+)(.*)$/);
  if (!m) continue;
  const size = 20;
  t.textContent = "";
  const a = document.createElementNS(NS, "tspan"); a.textContent = m[1];
  const b = document.createElementNS(NS, "tspan"); b.textContent = "\u2212" + m[2];
  b.setAttribute("dy", -0.42 * size); b.setAttribute("font-size", 0.72 * size);
  t.append(a, b);
  if (m[3]) { const c = document.createElementNS(NS, "tspan"); c.textContent = m[3]; c.setAttribute("dy", 0.42 * size); t.append(c); }
}

// legend (upper center, two columns)
const legend = document.getElementById("legend");
const cols = [[0, 2], [1, 3]]; // row 0: series 0 & 2, row 1: series 1 & 3
const colLineX = [3, 196], colTextX = [43.7, 236.3], rowY = [13.3, 36.7];
cols.forEach((pair, r) => pair.forEach((si, c) => {
  const sw = document.createElement("div");
  sw.className = "sw"; sw.style.left = colLineX[c] + "px"; sw.style.top = Math.round(rowY[r] - 1) + "px"; sw.style.background = seriesColors[si];
  const tx = document.createElement("div");
  tx.className = "li"; tx.style.left = colTextX[c] + "px"; tx.style.top = (rowY[r] - 8) + "px";
  tx.innerHTML = seriesNames[si] + '<span style="font-style:italic">Å</span>';
  legend.append(sw, tx);
}));
</script></body></html>
